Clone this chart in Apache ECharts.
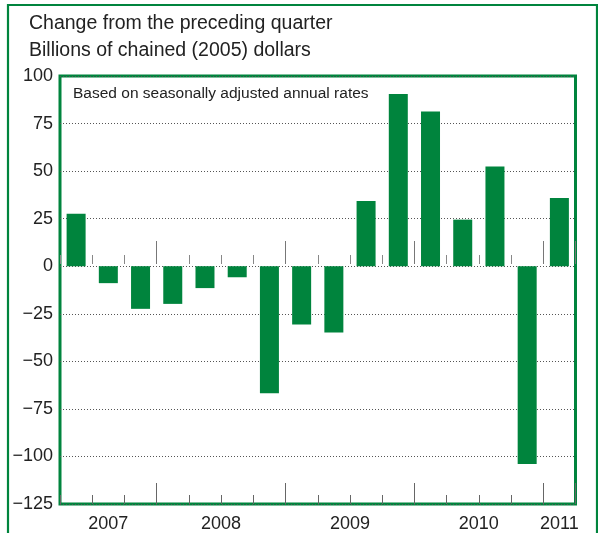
<!DOCTYPE html>
<html>
<head>
<meta charset="utf-8">
<script src="https://cdn.jsdelivr.net/npm/echarts@6/dist/echarts.min.js"></script>
<style>
  html, body { margin: 0; padding: 0; background: #fff; }
  #chart { width: 598px; height: 533px; }
</style>
</head>
<body>
<div id="chart"></div>
<script>
// ---- Data ----
var quarters = ['2007 Q2','2007 Q3','2007 Q4',
                '2008 Q1','2008 Q2','2008 Q3','2008 Q4',
                '2009 Q1','2009 Q2','2009 Q3','2009 Q4',
                '2010 Q1','2010 Q2','2010 Q3','2010 Q4',
                '2011 Q1'];
var changes = [27.6, -8.9, -22.4, -19.8, -11.5, -5.8, -66.8,
               -30.6, -34.8, 34.3, 90.6, 81.3, 24.5, 52.4, -104, 35.8];
var yearLabels = ['2007','2008','2009','2010','2011'];
var titleLines = ['Change from the preceding quarter', 'Billions of chained (2005) dollars'];
var noteText = 'Based on seasonally adjusted annual rates';
var yMin = -125, yMax = 100, yStep = 25;

// ---- Derived helpers ----
var GREEN = '#00843d';
var yearStartIdx = {};
quarters.forEach(function (q, i) { if (/Q1$/.test(q)) yearStartIdx[i] = true; });
var yearCenters = {};
yearLabels.forEach(function (y) {
  var idx = [];
  quarters.forEach(function (q, i) { if (q.indexOf(y) === 0) idx.push(i); });
  var c = (idx[0] + idx[idx.length - 1] + 1) / 2;
  yearCenters[c.toFixed(1)] = y;
});

var gridTop = 76, gridBottom = 25, H = 533;
var gridHeight = H - gridTop - gridBottom;
var zeroOffset = -((0 - yMin) / (yMax - yMin)) * gridHeight; // move tick axes up to zero line

var chart = echarts.init(document.getElementById('chart'), null, { renderer: 'canvas' });
var font = '"Liberation Sans", Arial, Helvetica, sans-serif';
var tickColor = '#666';

function catAxis(extra) {
  return Object.assign({
    type: 'category',
    data: quarters,
    position: 'bottom',
    boundaryGap: true,
    axisLabel: { show: false },
    splitLine: { show: false },
    axisLine: { show: false, onZero: false }
  }, extra);
}

var option = {
  animation: false,
  backgroundColor: '#fff',
  textStyle: { fontFamily: font },
  grid: {
    left: 60, top: gridTop, right: 22.5, bottom: gridBottom,
    show: true, borderColor: GREEN, borderWidth: 3, backgroundColor: 'transparent'
  },
  graphic: [
    { type: 'rect', shape: { x: 8, y: 5, width: 589, height: 560 },
      style: { fill: 'none', stroke: GREEN, lineWidth: 2.2 }, z: 100, silent: true },
    { type: 'text', left: 29, top: 14,
      style: { text: titleLines[0], font: '19.5px ' + font, fill: '#222' } },
    { type: 'text', left: 29, top: 41,
      style: { text: titleLines[1], font: '19.5px ' + font, fill: '#222' } },
    { type: 'text', left: 73, top: 86,
      style: { text: noteText, font: '15.5px ' + font, fill: '#222' } }
  ],
  xAxis: [
    catAxis({ axisTick: { show: true, inside: true, length: 9, interval: 0,
              lineStyle: { color: tickColor, width: 1 } } }),
    catAxis({ axisTick: { show: true, inside: true, length: 21,
              interval: function (i) { return !!yearStartIdx[i]; },
              lineStyle: { color: tickColor, width: 1 } } }),
    catAxis({ offset: zeroOffset,
              axisTick: { show: true, inside: true, length: 9, interval: 0,
              lineStyle: { color: '#888', width: 1 } } }),
    catAxis({ offset: zeroOffset,
              axisTick: { show: true, inside: true, length: 23,
              interval: function (i) { return !!yearStartIdx[i]; },
              lineStyle: { color: '#777', width: 1 } } }),
    {
      type: 'value', position: 'bottom', min: 0, max: quarters.length, interval: 0.5,
      axisLine: { show: false, onZero: false }, axisTick: { show: false },
      splitLine: { show: false },
      axisLabel: {
        show: true, margin: 11, fontSize: 18, color: '#222', fontFamily: font,
        showMinLabel: true, showMaxLabel: true,
        formatter: function (v) { return yearCenters[v.toFixed(1)] || ''; }
      }
    }
  ],
  yAxis: {
    type: 'value', min: yMin, max: yMax, interval: yStep,
    axisLine: { show: false }, axisTick: { show: false },
    axisLabel: {
      margin: 7, fontSize: 18, color: '#222', fontFamily: font,
      formatter: function (v) { return String(v).replace('-', '\u2212'); }
    },
    splitLine: { show: true, lineStyle: { color: '#555', width: 1, type: [1, 2] } }
  },
  series: [{
    type: 'bar',
    xAxisIndex: 0,
    data: changes,
    barWidth: 19,
    itemStyle: { color: GREEN },
    z: 3
  }]
};
chart.setOption(option);
</script>
</body>
</html>
